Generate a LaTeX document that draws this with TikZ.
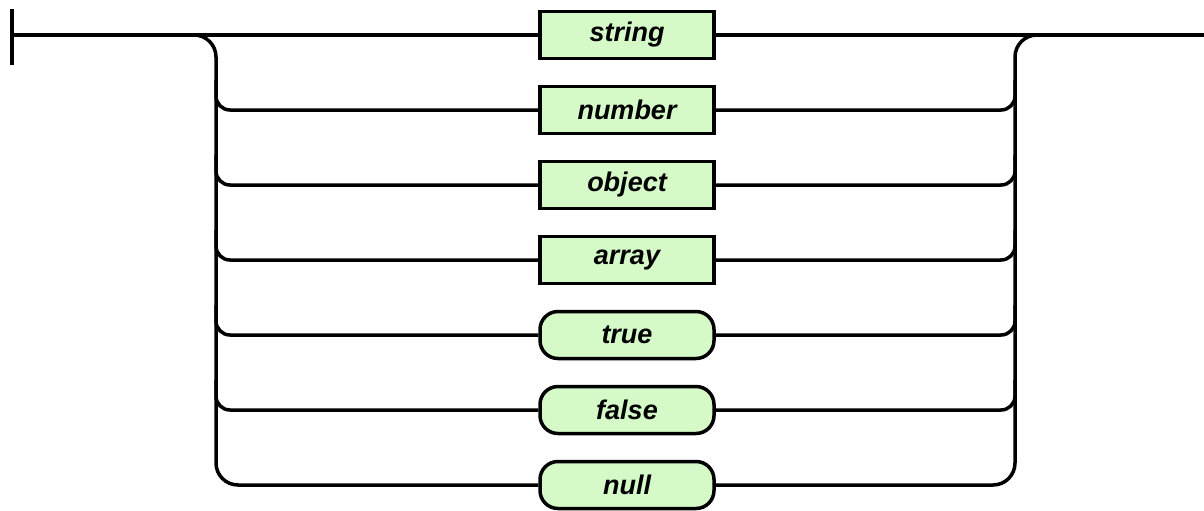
\documentclass[tikz,border=0pt]{standalone}
\usepackage{fontspec}
\newfontfamily\railfont{Liberation Sans}
\usetikzlibrary{calc}
\definecolor{railgreen}{RGB}{214,249,200}
\tikzset{
    rail/.style={line width=3.5pt},
    termbox/.style={draw, line width=3.5pt, fill=railgreen, minimum width=174pt,
        minimum height=47pt, inner sep=0pt,
        font=\railfont\bfseries\itshape\fontsize{27}{27}\selectfont},
    litbox/.style={termbox, rounded corners=18pt}
}
\begin{document}
\begin{tikzpicture}[x=1pt,y=-1pt]
    \useasboundingbox (0,0) rectangle (1204,511);
    \coordinate (start) at (12,35);
    \coordinate (split) at (216,35);
    \coordinate (join) at (1015,35);
    \coordinate (end) at (1204,35);
    % the values
    \node[termbox] (string) at (627,35) {string};
    \node[termbox] (number) at (627,110) {number};
    \node[termbox] (object) at (627,185) {object};
    \node[termbox] (array) at (627,260) {array};
    \node[litbox] (true) at (627,335) {true};
    \node[litbox] (false) at (627,410) {false};
    \node[litbox] (null) at (627,485) {null};
    % rails
    \draw[rail] ($(start)+(0,-26)$) -- ($(start)+(0,30)$);
    \draw[rail] (start) -- (string.west);
    \draw[rail] (string.east) -- (end);
    \draw[rail, rounded corners=22pt] (start) -- (split) -- (split |- null) -- (null.west);
    \draw[rail, rounded corners=22pt] (null.east) -- (join |- null) -- (join) -- (end);
    \foreach \n in {number,object,array,true,false} {
        \draw[rail, rounded corners=14pt] ($(split |- \n)+(0,-30)$) -- (split |- \n) -- (\n.west);
        \draw[rail, rounded corners=14pt] (\n.east) -- (join |- \n) -- ($(join |- \n)+(0,-30)$);
    }
\end{tikzpicture}
\end{document}
